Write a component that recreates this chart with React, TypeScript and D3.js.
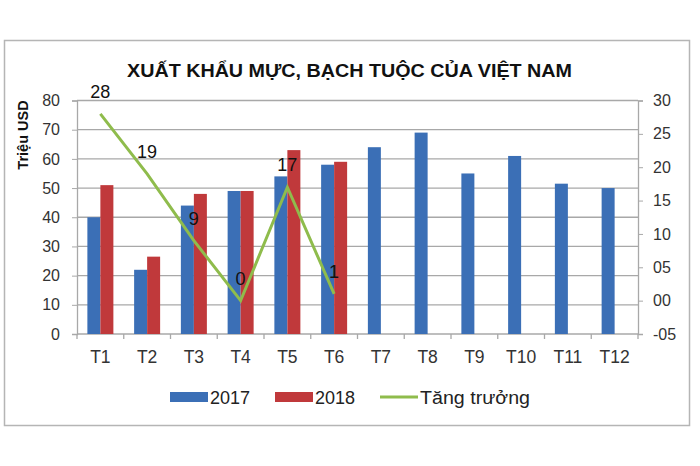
import React, {useEffect, useRef} from "react";
import * as d3 from "d3";

const months = ["T1", "T2", "T3", "T4", "T5", "T6", "T7", "T8", "T9", "T10", "T11", "T12"];
const exports2017 = [40, 22, 44, 49, 54, 58, 64, 69, 55, 61, 51.5, 50];
const exports2018 = [51, 26.5, 48, 49, 63, 59];
const growth = [28, 19, 9, 0, 17, 1];
const leftTicks = [0, 10, 20, 30, 40, 50, 60, 70, 80];
const rightTicks = [-5, 0, 5, 10, 15, 20, 25, 30];

const W = 700;
const H = 466;
const FONT = "'Liberation Sans', Arial, sans-serif";
const BLUE = "#3b6fb6";
const RED = "#c0393b";
const GREEN = "#8fbc4c";

export default function App() {
    const svgRef = useRef<SVGSVGElement | null>(null);

    useEffect(() => {
        if (!svgRef.current) return;
        const svg = d3.select(svgRef.current);
        svg.selectAll("*").remove();

        const plot = {left: 77, right: 638, top: 100.5, bottom: 334};

        const x = d3.scaleBand<string>().domain(months).range([plot.left, plot.right]);
        const yLeft = d3.scaleLinear().domain([0, 80]).range([plot.bottom, plot.top]);
        const yRight = d3.scaleLinear().domain([-5, 30]).range([plot.bottom, plot.top]);
        const barW = 13;

        // outer frame
        svg.append("rect")
            .attr("x", 4.5).attr("y", 40.5)
            .attr("width", 685).attr("height", 385)
            .attr("fill", "#fff")
            .attr("stroke", "#b5b5b5")
            .attr("stroke-width", 1.5);

        // title
        svg.append("text")
            .attr("x", 127).attr("y", 77)
            .attr("textLength", 445)
            .attr("lengthAdjust", "spacingAndGlyphs")
            .style("font-family", FONT)
            .style("font-size", "19px")
            .style("font-weight", "bold")
            .style("fill", "#111")
            .text("XUẤT KHẨU MỰC,  BẠCH TUỘC CỦA VIỆT NAM");

        // gridlines
        svg.append("g")
            .selectAll("line")
            .data(leftTicks)
            .enter()
            .append("line")
            .attr("x1", plot.left).attr("x2", plot.right)
            .attr("y1", (d) => yLeft(d)).attr("y2", (d) => yLeft(d))
            .attr("stroke", "#a8a8a8")
            .attr("stroke-width", 1.3);

        // left axis
        const left = svg.append("g").attr("transform", `translate(${plot.left},0)`)
            .call(d3.axisLeft(yLeft).tickValues(leftTicks).tickSize(5).tickPadding(12));
        left.select(".domain").attr("stroke", "#a8a8a8").attr("stroke-width", 1.3);
        left.selectAll(".tick line").attr("stroke", "#a8a8a8");
        left.selectAll(".tick text")
            .style("font-family", FONT).style("font-size", "16px").style("fill", "#333");
        left.attr("font-family", null).attr("font-size", null);

        // right axis
        const right = svg.append("g").attr("transform", `translate(${plot.right},0)`)
            .call(d3.axisRight(yRight).tickValues(rightTicks).tickSize(5).tickPadding(10)
                .tickFormat((d) => {
                    const v = d as number;
                    const s = String(Math.abs(v)).padStart(2, "0");
                    return v < 0 ? "-" + s : s;
                }));
        right.select(".domain").attr("stroke", "#a8a8a8").attr("stroke-width", 1.3);
        right.selectAll(".tick line").attr("stroke", "#a8a8a8");
        right.selectAll(".tick text")
            .style("font-family", FONT).style("font-size", "16px").style("fill", "#333");
        right.attr("font-family", null).attr("font-size", null);

        // bottom axis tick marks at category boundaries
        svg.append("g")
            .selectAll("line")
            .data(d3.range(months.length + 1))
            .enter()
            .append("line")
            .attr("x1", (i) => plot.left + i * x.step())
            .attr("x2", (i) => plot.left + i * x.step())
            .attr("y1", plot.bottom).attr("y2", plot.bottom + 5)
            .attr("stroke", "#a8a8a8").attr("stroke-width", 1.3);

        svg.append("g")
            .selectAll("text")
            .data(months)
            .enter()
            .append("text")
            .attr("x", (d) => (x(d) ?? 0) + x.bandwidth() / 2)
            .attr("y", plot.bottom + 29)
            .attr("text-anchor", "middle")
            .style("font-family", FONT).style("font-size", "17.5px").style("fill", "#333")
            .text((d) => d);

        // bars
        svg.append("g")
            .selectAll("rect")
            .data(exports2017)
            .enter()
            .append("rect")
            .attr("x", (_, i) => (x(months[i]) ?? 0) + x.bandwidth() / 2 - barW)
            .attr("y", (d) => yLeft(d))
            .attr("width", barW)
            .attr("height", (d) => plot.bottom - yLeft(d))
            .attr("fill", BLUE);

        svg.append("g")
            .selectAll("rect")
            .data(exports2018)
            .enter()
            .append("rect")
            .attr("x", (_, i) => (x(months[i]) ?? 0) + x.bandwidth() / 2)
            .attr("y", (d) => yLeft(d))
            .attr("width", barW)
            .attr("height", (d) => plot.bottom - yLeft(d))
            .attr("fill", RED);

        // growth line
        const line = d3.line<number>()
            .x((_, i) => (x(months[i]) ?? 0) + x.bandwidth() / 2)
            .y((d) => yRight(d));

        svg.append("path")
            .datum(growth)
            .attr("d", line)
            .attr("fill", "none")
            .attr("stroke", GREEN)
            .attr("stroke-width", 3);

        svg.append("g")
            .selectAll("text")
            .data(growth)
            .enter()
            .append("text")
            .attr("x", (_, i) => (x(months[i]) ?? 0) + x.bandwidth() / 2)
            .attr("y", (d) => yRight(d) - 16)
            .attr("text-anchor", "middle")
            .style("font-family", FONT).style("font-size", "18px").style("fill", "#111")
            .text((d) => d);

        // y axis title
        svg.append("text")
            .attr("transform", "translate(28,135) rotate(-90)")
            .attr("text-anchor", "middle")
            .style("font-family", FONT).style("font-size", "14.5px").style("font-weight", "bold")
            .style("fill", "#111")
            .text("Triệu USD");

        // legend
        const legend = svg.append("g");
        legend.append("rect").attr("x", 170).attr("y", 392).attr("width", 38).attr("height", 10).attr("fill", BLUE);
        legend.append("text").attr("x", 210).attr("y", 404)
            .style("font-family", FONT).style("font-size", "18px").style("fill", "#222").text("2017");
        legend.append("rect").attr("x", 275).attr("y", 392).attr("width", 38).attr("height", 10).attr("fill", RED);
        legend.append("text").attr("x", 315).attr("y", 404)
            .style("font-family", FONT).style("font-size", "18px").style("fill", "#222").text("2018");
        legend.append("line").attr("x1", 380).attr("x2", 418).attr("y1", 397).attr("y2", 397)
            .attr("stroke", GREEN).attr("stroke-width", 3);
        legend.append("text").attr("x", 420).attr("y", 404)
            .attr("textLength", 110)
            .attr("lengthAdjust", "spacingAndGlyphs")
            .style("font-family", FONT).style("font-size", "18px").style("fill", "#222").text("Tăng trưởng");
    }, []);

    return (
        <svg
            ref={svgRef}
            width={W}
            height={H}
            style={{position: "absolute", left: 0, top: 0, display: "block", background: "#fff"}}
        />
    );
}
